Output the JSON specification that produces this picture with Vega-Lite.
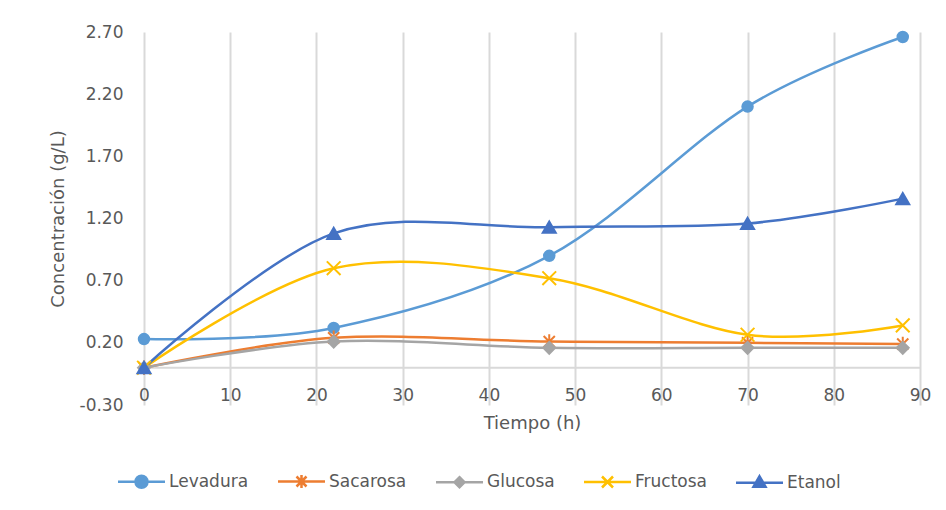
{
  "$schema": "https://vega.github.io/schema/vega-lite/v6.json",
  "width": 776,
  "height": 373,
  "autosize": {"type": "none"},
  "padding": {"left": 144, "top": 32, "right": 26, "bottom": 105},
  "background": "white",
  "config": {
    "view": {"stroke": null},
    "font": "DejaVu Sans",
    "axis": {
      "labelFont": "DejaVu Sans",
      "labelFontSize": 17,
      "labelColor": "#595959",
      "titleFont": "DejaVu Sans",
      "titleFontSize": 18,
      "titleFontWeight": "normal",
      "titleColor": "#595959",
      "gridColor": "#D9D9D9",
      "gridWidth": 2,
      "domain": false,
      "ticks": false
    }
  },
  "data": {
    "values": [
      {"serie": "Levadura", "tiempo": 0, "conc": 0.23},
      {"serie": "Levadura", "tiempo": 22, "conc": 0.32},
      {"serie": "Levadura", "tiempo": 47, "conc": 0.90},
      {"serie": "Levadura", "tiempo": 70, "conc": 2.10},
      {"serie": "Levadura", "tiempo": 88, "conc": 2.66},
      {"serie": "Sacarosa", "tiempo": 0, "conc": 0.0},
      {"serie": "Sacarosa", "tiempo": 22, "conc": 0.24},
      {"serie": "Sacarosa", "tiempo": 47, "conc": 0.21},
      {"serie": "Sacarosa", "tiempo": 70, "conc": 0.20},
      {"serie": "Sacarosa", "tiempo": 88, "conc": 0.19},
      {"serie": "Glucosa", "tiempo": 0, "conc": 0.0},
      {"serie": "Glucosa", "tiempo": 22, "conc": 0.21},
      {"serie": "Glucosa", "tiempo": 47, "conc": 0.16},
      {"serie": "Glucosa", "tiempo": 70, "conc": 0.16},
      {"serie": "Glucosa", "tiempo": 88, "conc": 0.16},
      {"serie": "Fructosa", "tiempo": 0, "conc": 0.0},
      {"serie": "Fructosa", "tiempo": 22, "conc": 0.80},
      {"serie": "Fructosa", "tiempo": 47, "conc": 0.72},
      {"serie": "Fructosa", "tiempo": 70, "conc": 0.265},
      {"serie": "Fructosa", "tiempo": 88, "conc": 0.34},
      {"serie": "Etanol", "tiempo": 0, "conc": 0.0},
      {"serie": "Etanol", "tiempo": 22, "conc": 1.08},
      {"serie": "Etanol", "tiempo": 47, "conc": 1.13},
      {"serie": "Etanol", "tiempo": 70, "conc": 1.16},
      {"serie": "Etanol", "tiempo": 88, "conc": 1.36}
    ]
  },
  "layer": [
    {
      "data": {"values": [{}]},
      "mark": {"type": "rule", "color": "#D9D9D9", "strokeWidth": 2},
      "encoding": {
        "y": {"datum": 0, "type": "quantitative", "scale": {"domain": [-0.3, 2.7], "nice": false, "zero": false}}
      }
    },
    {
      "mark": {"type": "line", "interpolate": "cardinal", "strokeWidth": 2.5},
      "encoding": {
        "x": {
          "field": "tiempo", "type": "quantitative",
          "scale": {"domain": [0, 90], "nice": false},
          "axis": {
            "values": [0, 10, 20, 30, 40, 50, 60, 70, 80, 90],
            "labelFlush": false,
            "labelOverlap": false,
            "labelPadding": -18,
            "title": "Tiempo (h)",
            "titleY": 18,
            "titleBaseline": "middle"
          }
        },
        "y": {
          "field": "conc", "type": "quantitative",
          "scale": {"domain": [-0.3, 2.7], "nice": false, "zero": false},
          "axis": {
            "values": [-0.3, 0.2, 0.7, 1.2, 1.7, 2.2, 2.7],
            "labelExpr": "replace(format(datum.value, '.2f'), '\u2212', '-')",
            "labelPadding": 21,
            "title": "Concentración (g/L)",
            "titleX": -86,
            "titleBaseline": "middle"
          }
        },
        "color": {
          "field": "serie", "type": "nominal",
          "scale": {
            "domain": ["Levadura", "Sacarosa", "Glucosa", "Fructosa", "Etanol"],
            "range": ["#5B9BD5", "#ED7D31", "#A5A5A5", "#FFC000", "#4472C4"]
          },
          "legend": {
            "orient": "none",
            "legendX": -11,
            "legendY": 441,
            "direction": "horizontal",
            "columns": 5,
            "padding": 0,
            "title": null,
            "symbolSize": 100,
            "labelOffset": 19,
            "columnPadding": 24,
            "labelFont": "DejaVu Sans",
            "labelFontSize": 17,
            "labelColor": "#595959",
            "encode": {
              "symbols": {
                "update": {
                  "shape": {"signal": "datum.value === 'Levadura' ? 'M-4.7,0L4.7,0M-1.2,0A1.2,1.2 0 1,0 1.2,0A1.2,1.2 0 1,0 -1.2,0Z' : datum.value === 'Sacarosa' ? 'M-4.7,0L4.7,0M-1,-1L1,1M-1,1L1,-1M0,-1.3L0,1.3' : datum.value === 'Glucosa' ? 'M-4.7,0L4.7,0M0,-1L1,0L0,1L-1,0Z' : datum.value === 'Fructosa' ? 'M-4.7,0L4.7,0M-1.1,-1.1L1.1,1.1M-1.1,1.1L1.1,-1.1' : 'M-4.7,0L4.7,0M0,-1.3L1.2,0.8L-1.2,0.8Z'"},
                  "fill": {"scale": "color", "field": "value"},
                  "stroke": {"scale": "color", "field": "value"},
                  "strokeWidth": {"value": 2.5},
                  "size": {"value": 100},
                  "opacity": {"value": 1}
                }
              }
            }
          }
        },
        "order": {"field": "tiempo", "type": "quantitative"}
      }
    },
    {
      "mark": {"type": "point", "filled": true, "strokeWidth": 2, "opacity": 1},
      "encoding": {
        "x": {"field": "tiempo", "type": "quantitative"},
        "y": {"field": "conc", "type": "quantitative"},
        "color": {"field": "serie", "type": "nominal"},
        "stroke": {
          "field": "serie", "type": "nominal",
          "scale": {
            "domain": ["Etanol", "Fructosa", "Glucosa", "Sacarosa", "Levadura"],
            "range": ["#4472C4", "#FFC000", "#A5A5A5", "#ED7D31", "#5B9BD5"]
          },
          "legend": null
        },
        "shape": {
          "field": "serie", "type": "nominal",
          "scale": {
            "domain": ["Etanol", "Fructosa", "Glucosa", "Sacarosa", "Levadura"],
            "range": ["triangle-up", "M-1.1,-1.1L1.1,1.1M-1.1,1.1L1.1,-1.1", "diamond", "M-1,-1L1,1M-1,1L1,-1M0,-1.3L0,1.3", "circle"]
          },
          "legend": null
        },
        "size": {
          "field": "serie", "type": "nominal",
          "scale": {
            "domain": ["Etanol", "Fructosa", "Glucosa", "Sacarosa", "Levadura"],
            "range": [170, 110, 90, 100, 121]
          },
          "legend": null
        }
      }
    }
  ]
}
